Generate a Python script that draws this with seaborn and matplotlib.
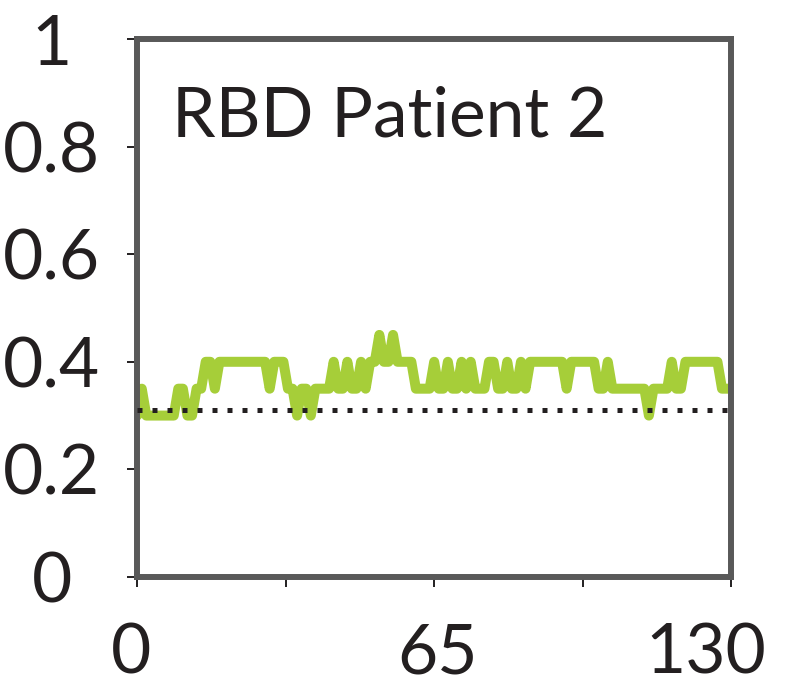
# Import libraries
import pandas as pd
import matplotlib.pyplot as plt
import seaborn as sns
from matplotlib.transforms import ScaledTranslation

# Set style
sns.set(style="white")
plt.rcParams["font.family"] = ["Lato", "DejaVu Sans"]

# Data (one value per step, 0..130)
steps = list(range(131))
values = ([0.30, 0.35] + [0.30] * 7 + [0.35] * 2 + [0.30] * 2 + [0.35] * 2
          + [0.40] * 2 + [0.35] + [0.40] * 11 + [0.35] + [0.40] * 3
          + [0.35] * 2 + [0.30] + [0.35] * 2 + [0.30] + [0.35] * 4
          + [0.40] + [0.35] * 2 + [0.40] + [0.35] * 2 + [0.40] + [0.35]
          + [0.40] * 2 + [0.45] + [0.40] * 2 + [0.45] + [0.40] * 4
          + [0.35] * 4 + [0.40] + [0.35] * 2 + [0.40] + [0.35] * 2 + [0.40]
          + [0.35] + [0.40] + [0.35] * 3 + [0.40] * 2 + [0.35] * 2 + [0.40]
          + [0.35] * 2 + [0.40] + [0.35] + [0.40] * 8 + [0.35] + [0.40] * 6
          + [0.35] * 2 + [0.40] + [0.35] * 8 + [0.30] + [0.35] * 4 + [0.40]
          + [0.35] * 2 + [0.40] * 8 + [0.35] * 3)
chance_level = 0.31
title = "RBD Patient 2"
x_ticks = [0, 32.5, 65, 97.5, 130]
x_tick_labels = ["0", "", "65", "", "130"]
y_ticks = [0, 0.2, 0.4, 0.6, 0.8, 1]
y_tick_labels = ["0", "0.2", "0.4", "0.6", "0.8", "1"]

df = pd.DataFrame({"step": steps, "value": values})

fig = plt.figure(figsize=(8.07, 6.86), dpi=100)
ax = fig.add_axes([0.170, 0.159, 0.736, 0.784])

# Green accuracy line
sns.lineplot(data=df, x="step", y="value", color="#a6ce39", linewidth=7.2,
             solid_capstyle="round", solid_joinstyle="round", ax=ax, zorder=2)

# Dotted chance line
ax.plot([steps[0], steps[-1]], [chance_level, chance_level], color="#231f20",
        linewidth=3.6, linestyle=(0, (1, 2)), dash_capstyle="butt", zorder=3)

ax.set_xlim(0, 130)
ax.set_ylim(0, 1)
ax.set_xlabel("")
ax.set_ylabel("")

# Axes frame
for side in ["left", "right", "top", "bottom"]:
    ax.spines[side].set_color("#595959")
    ax.spines[side].set_linewidth(4.3)

# Ticks
ax.set_xticks(x_ticks)
ax.set_xticklabels(x_tick_labels)
ax.set_yticks(y_ticks)
ax.set_yticklabels(y_tick_labels)
ax.tick_params(axis="both", labelsize=50, colors="#231f20", direction="out",
               length=7, width=1.4, bottom=True, left=True)
ax.tick_params(axis="x", pad=26)
ax.tick_params(axis="y", pad=54.5)
for lab in ax.get_yticklabels():
    lab.set_ha("center")
for lab, dx in zip(ax.get_xticklabels(), [-6, 0, 3, 0, -25]):
    lab.set_transform(lab.get_transform() + ScaledTranslation(dx / 100, 0, fig.dpi_scale_trans))

ax.text(0.059, 0.818, title, transform=ax.transAxes, fontsize=50,
        color="#231f20", ha="left", va="baseline")

plt.savefig("out.png", dpi=100)
